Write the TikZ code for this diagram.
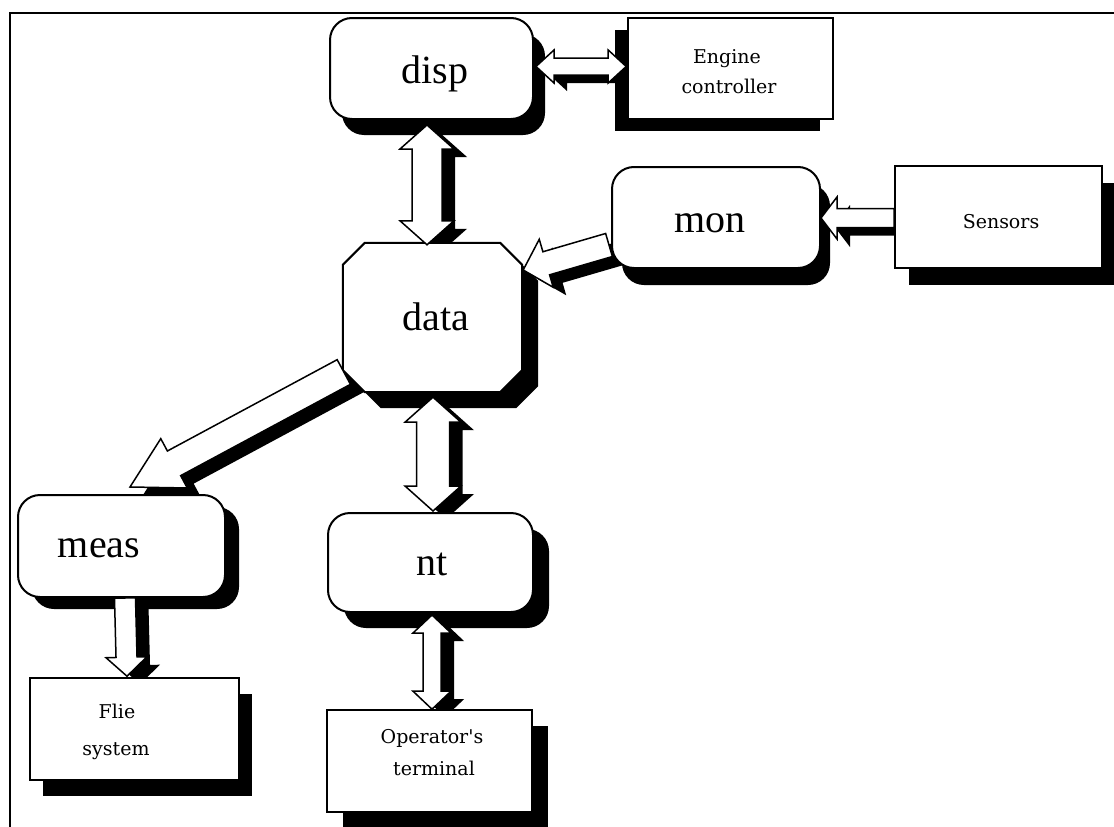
\documentclass[tikz,border=0pt]{standalone}
\usepackage{fontspec}
\setmainfont{Liberation Serif}
\newfontfamily\boxfont{DejaVu Serif}
\usetikzlibrary{calc,shadows}
\pgfdeclarelayer{under}
\pgfsetlayers{under,main}

% corner points of a block arrow running from #1 (tail) to #2 (tip);
% #3 half shaft width, #4 half head width, #5 head length
\newcommand{\arrowpts}[5]{%
  \coordinate (apA) at ($(#1)!#5!(#2)$);
  \coordinate (apB) at ($(#2)!#5!(#1)$);
  \coordinate (apT1) at ($(#1)!#3!90:(#2)$);
  \coordinate (apT2) at ($(#1)!#3!-90:(#2)$);
  \coordinate (apA1) at ($(apA)!#3!90:(#2)$);
  \coordinate (apA2) at ($(apA)!#3!-90:(#2)$);
  \coordinate (apAh1) at ($(apA)!#4!90:(#2)$);
  \coordinate (apAh2) at ($(apA)!#4!-90:(#2)$);
  \coordinate (apB1) at ($(apB)!#3!90:(#2)$);
  \coordinate (apB2) at ($(apB)!#3!-90:(#2)$);
  \coordinate (apBh1) at ($(apB)!#4!90:(#2)$);
  \coordinate (apBh2) at ($(apB)!#4!-90:(#2)$);
}
% one-headed block arrow with a black shadow
\newcommand{\onewayarrow}[5]{%
  \arrowpts{#1}{#2}{#3}{#4}{#5}
  \begin{pgfonlayer}{under}
    \fill[arrowshadow] (apT1) -- (apB1) -- (apBh1) -- (#2) -- (apBh2) -- (apB2) -- (apT2) -- cycle;
  \end{pgfonlayer}
  \draw[arrowbody] (apT1) -- (apB1) -- (apBh1) -- (#2) -- (apBh2) -- (apB2) -- (apT2) -- cycle;
}
% two-headed block arrow with a black shadow
\newcommand{\twowayarrow}[5]{%
  \arrowpts{#1}{#2}{#3}{#4}{#5}
  \begin{pgfonlayer}{under}
    \fill[arrowshadow] (#1) -- (apAh1) -- (apA1) -- (apB1) -- (apBh1) -- (#2) -- (apBh2) -- (apB2) -- (apA2) -- (apAh2) -- cycle;
  \end{pgfonlayer}
  \draw[arrowbody] (#1) -- (apAh1) -- (apA1) -- (apB1) -- (apBh1) -- (#2) -- (apBh2) -- (apB2) -- (apA2) -- (apAh2) -- cycle;
}

\begin{document}
\begin{tikzpicture}[x=1pt,y=-1pt,
  shadowed/.style 2 args={drop shadow={shadow xshift=#1pt, shadow yshift=-#2pt, fill=black, opacity=1}},
  module/.style={draw, line width=2pt, fill=white, rounded corners=22pt, inner sep=0pt},
  device/.style={draw, line width=1.6pt, fill=white, inner sep=0pt},
  hubframe/.style={inner sep=0pt},
  hubline/.style={draw, line width=2pt, fill=white, line join=miter},
  bigtext/.style={font=\fontsize{40}{40}\selectfont, anchor=base, inner sep=0pt},
  smalltext/.style={font=\boxfont\fontsize{19}{19}\selectfont, anchor=base, inner sep=0pt},
  arrowbody/.style={draw, fill=white, line width=1.5pt, line join=miter},
  arrowshadow/.style={fill=black, transform canvas={shift={(13,8)}}},
  frameline/.style={line width=2pt}]

\useasboundingbox (0,0) rectangle (1114,827);
\begin{pgfonlayer}{under}
  \fill[white] (0,0) rectangle (1114,827);
\end{pgfonlayer}

% outer frame (top and left edges)
\draw[frameline] (1114,13) -- (10,13) -- (10,827);

% software modules
\node[module, minimum width=203pt, minimum height=101pt, shadowed={12}{16}] (disp) at (431.5,68.5) {};
\node[module, minimum width=208pt, minimum height=101pt, shadowed={10}{17}] (mon) at (716,217.5) {};
\node[module, minimum width=207pt, minimum height=102pt, shadowed={14}{12}] (meas) at (121.5,546) {};
\node[module, minimum width=205pt, minimum height=99pt, shadowed={16}{16}] (nt) at (430.5,562.5) {};

% central data module: an octagon with chamfered corners
\node[hubframe, minimum width=179pt, minimum height=149pt] (data) at (432.5,317.5) {};
\draw[hubline, shadowed={16}{16}]
  ([shift={(22,0)}]data.north west) -- ([shift={(-22,0)}]data.north east)
  -- ([shift={(0,22)}]data.north east) -- ([shift={(0,-22)}]data.south east)
  -- ([shift={(-22,0)}]data.south east) -- ([shift={(22,0)}]data.south west)
  -- ([shift={(0,-22)}]data.south west) -- ([shift={(0,22)}]data.north west)
  -- cycle;

% hardware and external units
\node[device, minimum width=205pt, minimum height=101pt, shadowed={-13}{12}] (engine) at (730.5,68.5) {};
\node[device, minimum width=207pt, minimum height=102pt, shadowed={14}{17}] (sensors) at (998.5,217) {};
\node[device, minimum width=209pt, minimum height=102pt, shadowed={13}{16}] (flie) at (134.5,729) {};
\node[device, minimum width=205pt, minimum height=102pt, shadowed={16}{16}] (oper) at (429.5,761) {};

% labels
\node[bigtext] (displabel) at (435,83) {disp};
\node[bigtext] (datalabel) at (436,330) {data};
\node[bigtext] (monlabel) at (710,232) {mon};
\node[bigtext] (measlabel) at (99,557) {meas};
\node[bigtext] (ntlabel) at (432,575) {nt};
\node[smalltext] (enginelabelA) at (727,63) {Engine};
\node[smalltext] (enginelabelB) at (729,93) {controller};
\node[smalltext] (sensorslabel) at (1001,228) {Sensors};
\node[smalltext] (flielabelA) at (117,718) {Flie};
\node[smalltext] (flielabelB) at (116,755) {system};
\node[smalltext] (operlabelA) at (432,743) {Operator's};
\node[smalltext] (operlabelB) at (434,775) {terminal};

% arrow end points on the boxes
\coordinate (de1) at ([shift={(2,-2)}]disp.east);
\coordinate (de2) at ([shift={(-1,-2)}]engine.west);
\coordinate (dd1) at ([shift={(-4.5,5)}]disp.south);
\coordinate (dd2) at ([shift={(-5.5,2)}]data.north);
\coordinate (dn1) at ([shift={(0.5,5)}]data.south);
\coordinate (dn2) at ([shift={(2.5,-1)}]nt.north);
\coordinate (no1) at ([shift={(1.5,2)}]nt.south);
\coordinate (no2) at ([shift={(2.5,0)}]oper.north);
\coordinate (mf1) at ([shift={(3.5,0)}]meas.south);
\coordinate (mf2) at ([shift={(-7.5,-1)}]flie.north);
\coordinate (sm1) at ([shift={(0,1)}]sensors.west);
\coordinate (sm2) at ([shift={(0,0.5)}]mon.east);
\coordinate (md1) at ([shift={(-2,27.5)}]mon.west);
\coordinate (md2) at ([shift={(1,-47.5)}]data.east);
\coordinate (dm1) at ([shift={(1,54.5)}]data.west);
\coordinate (dm2) at ([shift={(8.5,-7)}]meas.north);

% block arrows
\twowayarrow{de1}{de2}{8.5pt}{16.5pt}{18pt}
\twowayarrow{dd1}{dd2}{15pt}{27pt}{24pt}
\twowayarrow{dn1}{dn2}{16.5pt}{28pt}{25pt}
\twowayarrow{no1}{no2}{9pt}{19pt}{18pt}
\onewayarrow{mf1}{mf2}{10.5pt}{20.5pt}{19pt}
\onewayarrow{sm1}{sm2}{9.5pt}{21pt}{16pt}
\onewayarrow{md1}{md2}{12pt}{25pt}{24pt}
\onewayarrow{dm1}{dm2}{14pt}{28pt}{50pt}

\end{tikzpicture}
\end{document}
